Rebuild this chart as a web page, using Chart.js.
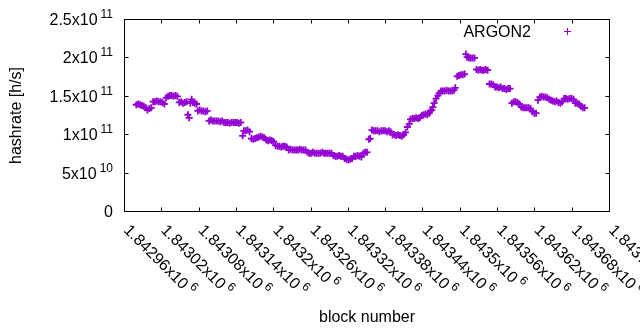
<!DOCTYPE html>
<html>
<head>
<meta charset="utf-8">
<title>ARGON2 hashrate</title>
<script src="https://cdn.jsdelivr.net/npm/chart.js@4.4.1/dist/chart.umd.min.js"></script>
<style>
  body { margin: 0; background: #fff; }
  canvas { display: block; }
</style>
</head>
<body>
<canvas id="chart" width="640" height="330"></canvas>
<script>
"use strict";

const seriesName = "ARGON2";

// block numbers
const blockNumbers = [
  1842979, 1842982, 1842985, 1842988, 1842991, 1842994, 1842997, 1843000, 1843003,
  1843006, 1843009, 1843012, 1843015, 1843018, 1843021, 1843024,
  1843027, 1843030, 1843033, 1843036, 1843039, 1843042, 1843045,
  1843048, 1843051, 1843054, 1843057, 1843060, 1843062, 1843064,
  1843066, 1843068, 1843070, 1843073, 1843076,
  1843078, 1843081, 1843084, 1843087, 1843090, 1843093,
  1843096, 1843099, 1843102, 1843105, 1843108, 1843111, 1843114, 1843117,
  1843120, 1843123, 1843126, 1843129, 1843132, 1843135, 1843138, 1843141, 1843144, 1843147,
  1843150, 1843152, 1843155, 1843158, 1843161,
  1843164, 1843167, 1843170, 1843173, 1843176, 1843179, 1843182, 1843185,
  1843188, 1843191, 1843194, 1843197, 1843200,
  1843203, 1843206, 1843209, 1843212, 1843215, 1843218, 1843221,
  1843224, 1843227, 1843230, 1843233, 1843236, 1843239, 1843242, 1843245, 1843248, 1843251,
  1843254, 1843257, 1843260, 1843263, 1843266, 1843269, 1843272, 1843275, 1843278, 1843281,
  1843284, 1843287, 1843290, 1843293,
  1843296, 1843299, 1843302, 1843305, 1843308, 1843311,
  1843314, 1843317, 1843320, 1843323, 1843326,
  1843329, 1843332, 1843335, 1843338, 1843341, 1843344, 1843347, 1843350,
  1843353, 1843355,
  1843358, 1843361, 1843364, 1843367, 1843370, 1843373, 1843376, 1843379, 1843382, 1843385, 1843388,
  1843391, 1843394, 1843397, 1843400, 1843403, 1843406, 1843409,
  1843412, 1843415, 1843418,
  1843420, 1843423, 1843426, 1843429, 1843432, 1843435,
  1843438, 1843441, 1843444, 1843447, 1843450, 1843452, 1843454,
  1843456, 1843458, 1843461, 1843464, 1843466,
  1843469, 1843472, 1843475, 1843478, 1843481, 1843484, 1843487, 1843490, 1843492,
  1843495, 1843498, 1843501, 1843504, 1843507,
  1843509, 1843511, 1843514, 1843517, 1843520, 1843523,
  1843526, 1843529, 1843532, 1843535, 1843538, 1843541, 1843544,
  1843547, 1843550, 1843553, 1843556, 1843559, 1843562, 1843565,
  1843568, 1843571, 1843574, 1843577, 1843580,
  1843583, 1843586, 1843589, 1843592, 1843595,
  1843598, 1843601, 1843604, 1843607, 1843610, 1843613,
  1843616, 1843619, 1843622,
  1843625, 1843628, 1843631, 1843634, 1843637, 1843640,
  1843643, 1843646, 1843649, 1843652, 1843655, 1843658, 1843661, 1843664,
  1843667, 1843670, 1843673, 1843676, 1843679, 1843682,
  1843685, 1843688, 1843691, 1843694, 1843697, 1843700
];

// hashrate in units of 1e9 h/s, same order as blockNumbers
const hashrateG = [
  139, 140, 139, 138, 137, 135, 132, 134, 135,
  143, 143, 144, 143, 143, 142, 140,
  148, 150, 151, 151, 150, 151, 150,
  142, 143, 141, 142, 143, 126, 122,
  141, 146, 142, 141, 140,
  131, 132, 131, 131, 130, 131,
  118, 119, 118, 118, 118, 118, 117, 118,
  116, 116, 116, 115, 116, 116, 116, 116, 115, 116,
  98.5, 105, 105, 106, 104,
  95, 94, 95, 96, 97, 98, 97, 96,
  93, 92, 93, 92, 91,
  86, 85, 85, 84, 85, 85, 84,
  80, 81, 80, 80, 80, 80, 81, 80, 80, 80,
  77, 76, 76, 77, 76, 76, 76, 76, 77, 76,
  76, 76, 76, 76,
  73, 72, 72, 73, 72, 72,
  69, 68, 67, 68, 69,
  72, 72, 73, 72, 71, 76, 77, 77,
  94, 95,
  106, 105, 105, 105, 104, 105, 105, 105, 104, 105, 104,
  100, 100, 99, 100, 99, 98, 100,
  103, 110, 114,
  120, 121, 121, 122, 121, 122,
  125, 126, 127, 126, 128, 131, 132,
  136, 141, 147, 151, 154,
  157, 157, 157, 158, 157, 157, 157, 158, 161,
  176, 177, 178, 178, 179,
  205, 201, 200, 200, 200, 200,
  185, 184, 185, 184, 184, 185, 184,
  166, 166, 165, 162, 162, 161, 162,
  160, 160, 159, 160, 160,
  141, 143, 143, 142, 140,
  136, 135, 135, 135, 135, 134,
  130, 128, 128,
  145, 149, 150, 149, 149, 148,
  146, 145, 144, 143, 144, 142, 141, 143,
  147, 147, 146, 147, 147, 146,
  141, 141, 140, 137, 135, 135
];

const xTickValues = [1842960, 1843020, 1843080, 1843140, 1843200, 1843260, 1843320,
  1843380, 1843440, 1843500, 1843560, 1843620, 1843680, 1843740];
const xTickLabels = ["1.84296x10^6", "1.84302x10^6", "1.84308x10^6", "1.84314x10^6",
  "1.8432x10^6", "1.84326x10^6", "1.84332x10^6", "1.84338x10^6", "1.84344x10^6",
  "1.8435x10^6", "1.84356x10^6", "1.84362x10^6", "1.84368x10^6", "1.84374x10^6"];
const yTickValues = [0, 5e10, 1e11, 1.5e11, 2e11, 2.5e11];
const yTickLabels = ["0", "5x10^10", "1x10^11", "1.5x10^11", "2x10^11", "2.5x10^11"];

const xTitle = "block number";
const yTitle = "hashrate [h/s]";

const purple = "#9400d3";
const fontFace = "'Liberation Sans', Arial, sans-serif";

function splitSup(text) {
  let i = text.indexOf("^");
  if (i < 0) return [text, ""];
  return [text.slice(0, i), text.slice(i + 1)];
}

// gnuplot style box: frame, inward ticks on all sides, labels with exponents
const gnuplotFrame = {
  id: "gnuplotFrame",
  afterDraw(chart) {
    const ctx = chart.ctx;
    const a = chart.chartArea;
    const x = chart.scales.x;
    const y = chart.scales.y;
    const tickLen = 4;

    ctx.save();
    ctx.strokeStyle = "#000";
    ctx.lineWidth = 1;
    ctx.strokeRect(a.left, a.top, a.right - a.left, a.bottom - a.top);

    ctx.beginPath();
    xTickValues.forEach(v => {
      let px = Math.floor(x.getPixelForValue(v)) + 0.5;
      ctx.moveTo(px, a.bottom); ctx.lineTo(px, a.bottom - tickLen);
      ctx.moveTo(px, a.top); ctx.lineTo(px, a.top + tickLen);
    });
    yTickValues.forEach(v => {
      let py = Math.floor(y.getPixelForValue(v)) + 0.5;
      ctx.moveTo(a.left, py); ctx.lineTo(a.left + tickLen, py);
      ctx.moveTo(a.right, py); ctx.lineTo(a.right - tickLen, py);
    });
    ctx.stroke();

    ctx.fillStyle = "#000";
    ctx.textAlign = "left";
    ctx.textBaseline = "alphabetic";

    // y tick labels, right aligned
    yTickValues.forEach((v, i) => {
      let parts = splitSup(yTickLabels[i]);
      let py = y.getPixelForValue(v);
      let right = 113;
      ctx.font = "12px " + fontFace;
      let supW = parts[1] ? ctx.measureText(parts[1]).width : 0;
      ctx.font = "16px " + fontFace;
      let mainW = ctx.measureText(parts[0]).width;
      let gap = parts[1] ? 3 : 0;
      ctx.fillText(parts[0], right - supW - gap - mainW, py + 5.5);
      if (parts[1]) {
        ctx.font = "12px " + fontFace;
        ctx.fillText(parts[1], right - supW, py - 1.5);
      }
    });

    // x tick labels, rotated by 45 degrees
    xTickValues.forEach((v, i) => {
      let parts = splitSup(xTickLabels[i]);
      let px = x.getPixelForValue(v);
      ctx.save();
      ctx.translate(px - 1.5, a.bottom + 19.5);
      ctx.rotate(Math.PI / 4);
      ctx.font = "16px " + fontFace;
      ctx.fillText(parts[0], 0, 0);
      let mainW = ctx.measureText(parts[0]).width;
      ctx.font = "12px " + fontFace;
      ctx.fillText(parts[1], mainW + 3, -7);
      ctx.restore();
    });

    // axis titles
    ctx.font = "16px " + fontFace;
    ctx.textAlign = "center";
    ctx.fillText(xTitle, (a.left + a.right) / 2, 321.5);
    ctx.save();
    ctx.translate(21, (a.top + a.bottom) / 2);
    ctx.rotate(-Math.PI / 2);
    ctx.fillText(yTitle, 0, 0);
    ctx.restore();

    // key, top right: text then sample
    let ds = chart.data.datasets[0];
    ctx.textAlign = "right";
    ctx.fillText(ds.label, 531, 37);
    ctx.strokeStyle = ds.pointBorderColor;
    ctx.lineWidth = 1;
    ctx.beginPath();
    ctx.moveTo(567.5 - 3.5, 31.5); ctx.lineTo(567.5 + 3.5, 31.5);
    ctx.moveTo(567.5, 31.5 - 3.5); ctx.lineTo(567.5, 31.5 + 3.5);
    ctx.stroke();
    ctx.restore();
  }
};

const app = {
  chart: null,
  init: function () {
    let points = [];
    blockNumbers.forEach((b, i) => {
      points.push({ x: b, y: hashrateG[i] * 1e9 });
    });
    this.render(points);
  },
  render: function (points) {
    let context = document.getElementById("chart");
    this.chart = new Chart(context, {
      type: "scatter",
      data: {
        datasets: [{
          label: seriesName,
          data: points,
          showLine: false,
          pointStyle: "cross",
          pointRadius: 3.5,
          pointHoverRadius: 3.5,
          pointBorderWidth: 1.8,
          pointBorderColor: purple,
          pointBackgroundColor: purple
        }]
      },
      options: {
        responsive: false,
        animation: false,
        events: [],
        layout: { padding: { left: 124.5, right: 30.5, top: 19.5, bottom: 118.5 } },
        scales: {
          x: { type: "linear", display: false, min: xTickValues[0], max: xTickValues[xTickValues.length - 1] },
          y: { type: "linear", display: false, min: yTickValues[0], max: yTickValues[yTickValues.length - 1] }
        },
        plugins: {
          legend: { display: false },
          tooltip: { enabled: false }
        }
      },
      plugins: [gnuplotFrame]
    });
  }
};

app.init();
</script>
</body>
</html>
